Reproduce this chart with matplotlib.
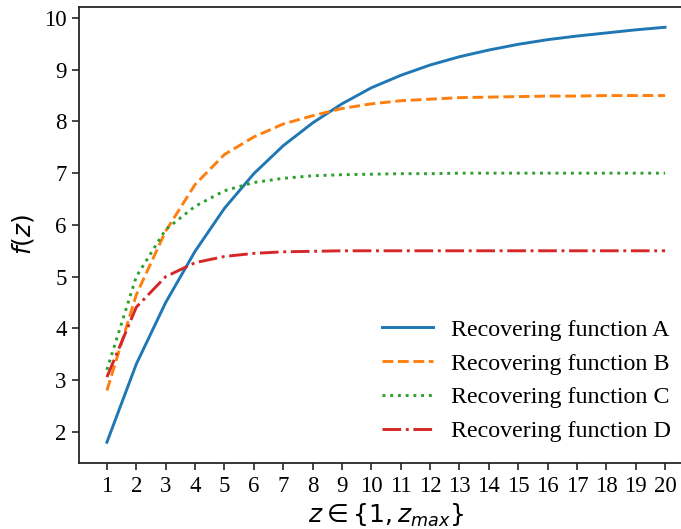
import numpy as np
import matplotlib
matplotlib.use("Agg")
import matplotlib.pyplot as plt

# Werte
z = list(range(1, 21))
func_a = [1.80, 3.31, 4.50, 5.49, 6.32, 6.99, 7.53, 7.97, 8.34, 8.65,
          8.89, 9.09, 9.25, 9.38, 9.49, 9.58, 9.65, 9.71, 9.77, 9.82]
func_b = [2.80, 4.65, 5.88, 6.78, 7.36, 7.70, 7.95, 8.11, 8.25, 8.34,
          8.40, 8.43, 8.46, 8.47, 8.48, 8.49, 8.49, 8.50, 8.50, 8.50]
func_c = [3.20, 5.00, 5.91, 6.36, 6.66, 6.82, 6.90, 6.95, 6.97, 6.98,
          6.99, 6.99, 7.00, 7.00, 7.00, 7.00, 7.00, 7.00, 7.00, 7.00]
func_d = [3.06, 4.41, 5.00, 5.27, 5.39, 5.45, 5.48, 5.49, 5.50, 5.50,
          5.50, 5.50, 5.50, 5.50, 5.50, 5.50, 5.50, 5.50, 5.50, 5.50]
labels = ["Recovering function A", "Recovering function B",
          "Recovering function C", "Recovering function D"]

SERIF = ["Liberation Serif", "DejaVu Serif"]
EDGE = "#262626"

fig = plt.figure(figsize=(6.81, 5.29), dpi=100)
ax = fig.add_axes([79/681, 66/529, 614/681, 456.5/529])

ax.plot(z, func_a, color="#1f77b4", lw=2.1, ls="-", label=labels[0])
ax.plot(z, func_b, color="#ff7f0e", lw=2.1, ls="--", label=labels[1])
ax.plot(z, func_c, color="#2ca02c", lw=2.1, ls=":", label=labels[2])
ax.plot(z, func_d, color="#d62728", lw=2.1, ls="-.", label=labels[3])

ax.set_xticks(z)
ax.set_yticks(range(2, 11))
for lab in ax.get_xticklabels() + ax.get_yticklabels():
    lab.set_fontfamily(SERIF)
    lab.set_fontsize(16.5)
ax.tick_params(direction="out", length=5, width=1.2, color=EDGE, pad=4)

for sp in ax.spines.values():
    sp.set_color(EDGE)
    sp.set_linewidth(1.3)

ax.set_xlabel(r"$z \in \{1, z_{max}\}$", fontsize=18, labelpad=4)
ax.set_ylabel(r"$f(z)$", fontsize=18, labelpad=6)

leg = ax.legend(loc="lower right", frameon=False, prop={"family": SERIF, "size": 17.3},
                bbox_to_anchor=(0.999, -0.002), handlelength=2.1, handletextpad=0.75)

fig.savefig("out.png", dpi=100)
